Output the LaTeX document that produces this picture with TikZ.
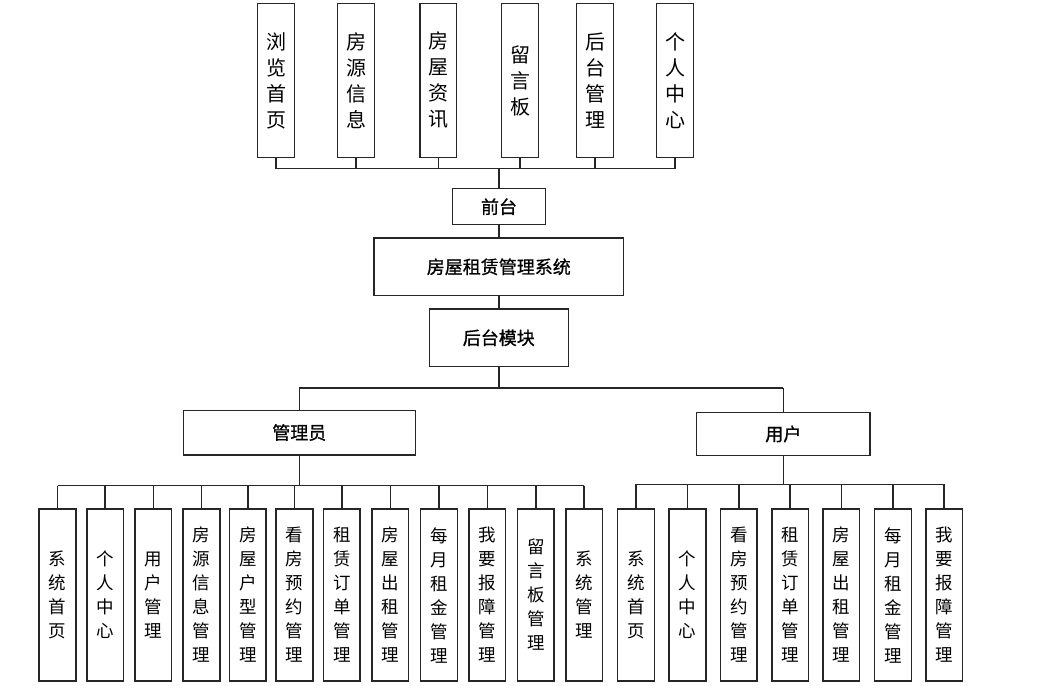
\documentclass[tikz,border=0pt]{standalone}
\usepackage{fontspec}
\setmainfont{Noto Sans CJK SC}
\newfontfamily\midfont[FakeBold=1]{Noto Sans CJK SC}
\begin{document}
\begin{tikzpicture}[x=1pt,y=-1pt,
  ln/.style={line width=1.5pt, draw=black!85},
  topbox/.style={draw=black!85, line width=1.5pt, fill=white, minimum width=36.6pt, minimum height=154.4pt, inner sep=0pt, align=center, font=\fontsize{20}{26}\selectfont},
  botbox/.style={draw=black!85, line width=1.5pt, fill=white, minimum width=36.6pt, minimum height=171.7pt, inner sep=0pt, align=center, font=\fontsize{17.5}{24}\selectfont},
  midbox/.style={draw=black!85, line width=1.5pt, fill=white, inner sep=0pt, align=center, font=\midfont\fontsize{18}{20}\selectfont}
]
\useasboundingbox (0,0) rectangle (1041,699);
% top row
\node[topbox] (t1) at (276,80.5) {浏\\览\\首\\页};
\node[topbox] (t2) at (356,80.5) {房\\源\\信\\息};
\node[topbox] (t3) at (438.3,80.5) {房\\屋\\资\\讯};
\node[topbox] (t4) at (520,80.5) {留\\言\\板};
\node[topbox] (t5) at (595,80.5) {后\\台\\管\\理};
\node[topbox] (t6) at (675,80.5) {个\\人\\中\\心};
% middle
\node[midbox, minimum width=92.6pt, minimum height=36pt] (qt) at (499,206.7) {前台};
\node[midbox, minimum width=249.7pt, minimum height=57.7pt] (sys) at (498.8,266.8) {房屋租赁管理系统};
\node[midbox, minimum width=139pt, minimum height=57.7pt] (hb) at (498.8,337.8) {后台模块};
\node[midbox, minimum width=232pt, minimum height=44.5pt] (adm) at (299.3,432.5) {管理员};
\node[midbox, minimum width=173.3pt, minimum height=43.4pt] (usr) at (783.3,434) {用户};
% bus coordinates
\coordinate (tb) at (498.8,168.7);
\coordinate (mb) at (498.8,388);
\coordinate (ab) at (299.7,485.7);
\coordinate (ub) at (783.3,484.3);
% admin children
\node[botbox] (a1) at (57.5,595) {系\\统\\首\\页};
\node[botbox] (a2) at (105.2,595) {个\\人\\中\\心};
\node[botbox] (a3) at (153.3,595) {用\\户\\管\\理};
\node[botbox] (a4) at (201.5,595) {房\\源\\信\\息\\管\\理};
\node[botbox] (a5) at (247.8,595) {房\\屋\\户\\型\\管\\理};
\node[botbox] (a6) at (294.5,595) {看\\房\\预\\约\\管\\理};
\node[botbox] (a7) at (341.8,595) {租\\赁\\订\\单\\管\\理};
\node[botbox] (a8) at (390.3,595) {房\\屋\\出\\租\\管\\理};
\node[botbox] (a9) at (439,595) {每\\月\\租\\金\\管\\理};
\node[botbox] (a10) at (487.3,595) {我\\要\\报\\障\\管\\理};
\node[botbox] (a11) at (535.8,595) {留\\言\\板\\管\\理};
\node[botbox] (a12) at (584.2,595) {系\\统\\管\\理};
% user children
\node[botbox] (u1) at (636,595) {系\\统\\首\\页};
\node[botbox] (u2) at (687.5,595) {个\\人\\中\\心};
\node[botbox] (u3) at (738.8,595) {看\\房\\预\\约\\管\\理};
\node[botbox] (u4) at (790.2,595) {租\\赁\\订\\单\\管\\理};
\node[botbox] (u5) at (841.3,595) {房\\屋\\出\\租\\管\\理};
\node[botbox] (u6) at (893,595) {每\\月\\租\\金\\管\\理};
\node[botbox] (u7) at (944.2,595) {我\\要\\报\\障\\管\\理};
% connectors top
\draw[ln] (t1.south |- tb) -- (t6.south |- tb);
\foreach \n in {t1,t2,t3,t4,t5,t6} \draw[ln] (\n.south) -- (\n.south |- tb);
\draw[ln] (qt.north) -- (qt.north |- tb);
\draw[ln] (qt.south) -- (qt.south |- sys.north);
\draw[ln] (sys.south) -- (sys.south |- hb.north);
% middle bus
\draw[ln] (hb.south) -- (mb);
\draw[ln] (adm.north |- mb) -- (usr.north |- mb);
\draw[ln] (adm.north |- mb) -- (adm.north);
\draw[ln] (usr.north |- mb) -- (usr.north);
% admin bus
\draw[ln] (adm.south) -- (adm.south |- ab);
\draw[ln] (a1.north |- ab) -- (a12.north |- ab);
\foreach \n in {a1,a2,a3,a4,a5,a6,a7,a8,a9,a10,a11,a12} \draw[ln] (\n.north |- ab) -- (\n.north);
% user bus
\draw[ln] (usr.south) -- (usr.south |- ub);
\draw[ln] (u1.north |- ub) -- (u7.north |- ub);
\foreach \n in {u1,u2,u3,u4,u5,u6,u7} \draw[ln] (\n.north |- ub) -- (\n.north);
\end{tikzpicture}
\end{document}
